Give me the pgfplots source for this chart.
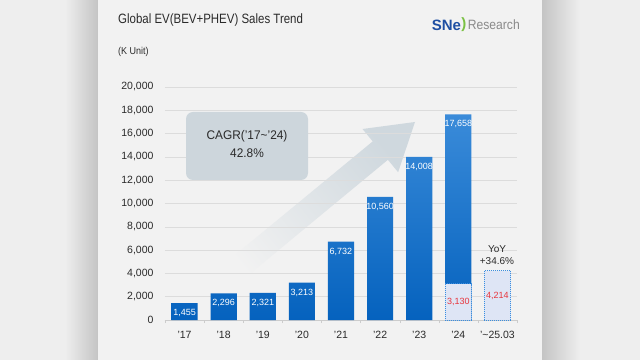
\documentclass[border=0pt]{standalone}
\usepackage{pgfplots}
\pgfplotsset{compat=1.18}
\usepackage{fontspec}
\setmainfont{Liberation Sans}
\definecolor{outerbg}{HTML}{EEEEEE}
\definecolor{panelbg}{HTML}{F2F2F2}
\definecolor{shadow}{HTML}{C4C4C4}
\definecolor{gridc}{HTML}{DCDCDC}
\definecolor{axisc}{HTML}{CCCCCC}
\definecolor{bartop}{HTML}{3A8BD9}
\definecolor{barbot}{HTML}{0562BE}
\definecolor{boxfill}{HTML}{DEE5F5}
\definecolor{boxdraw}{HTML}{3A8EE0}
\definecolor{redlab}{HTML}{E8343C}
\definecolor{txt}{HTML}{2A2A2A}
\definecolor{cagrbox}{HTML}{CDD6DC}
\definecolor{arrowc}{HTML}{CFD8DE}
\definecolor{sneblue}{HTML}{1E4FA3}
\definecolor{snegreen}{HTML}{7AC143}
\definecolor{snegray}{HTML}{8A8A8A}
\newcommand{\fs}[1]{\fontsize{#1bp}{#1bp}\selectfont}
\begin{document}
\begin{tikzpicture}
% background
\fill[outerbg] (-165bp,-40bp) rectangle (475bp,320bp);
\shade[left color=outerbg, right color=shadow] (-100bp,-40bp) rectangle (-67bp,320bp);
\shade[left color=shadow, right color=outerbg] (377bp,-40bp) rectangle (415bp,320bp);
\fill[panelbg] (-67bp,-40bp) rectangle (377bp,320bp);
% arrow
\shade[top color=arrowc, bottom color=panelbg, shading angle=-51]
  (47.4bp,46.3bp) -- (207.7bp,178.6bp) -- (197.5bp,191.0bp) -- (250bp,198bp)
  -- (233.1bp,147.8bp) -- (222.9bp,160.2bp) -- (62.6bp,27.7bp) -- cycle;
\begin{axis}[
  at={(0,0)}, anchor=south west,
  scale only axis, width=352bp, height=233bp,
  xmin=-0.5, xmax=8.5, ymin=0, ymax=20000,
  axis lines*=left,
  x axis line style={draw=axisc, line width=0.8pt},
  y axis line style={draw=none},
  ytick={0,2000,...,20000},
  scaled y ticks=false,
  yticklabel style={/pgf/number format/fixed, /pgf/number format/1000 sep={,}, font=\fs{10.5}, text=txt, xshift=-8bp},
  /pgf/number format/assume math mode=true,
  ymajorgrids, grid style={draw=gridc, line width=0.6pt},
  xtick={0,1,...,8},
  xticklabels={’17,’18,’19,’20,’21,’22,’23,’24,’\textasciitilde 25.03},
  xticklabel style={font=\fs{10.5}, text=txt, yshift=-8bp},
  minor xtick={-0.5,0.5,...,8.5},
  major tick length=0pt, minor tick length=3bp,
  tick align=outside,
  minor tick style={draw=axisc},
  clip=false,
]
\addplot[ybar, bar width=0.67, bar shift=0pt, draw=none, top color=bartop, bottom color=barbot,
  nodes near coords, nodes near coords style={anchor=center, yshift=-10bp, text=white, font=\fs{9}, /pgf/number format/1000 sep={,}}]
  coordinates {(0,1455) (1,2296) (2,2321) (3,3213) (4,6732) (5,10560) (6,14008) (7,17658)};
\addplot[ybar, bar width=0.67, bar shift=0pt, draw=boxdraw, densely dotted, line width=1pt, fill=boxfill,
  nodes near coords, nodes near coords style={anchor=center, yshift=-18bp, text=redlab, font=\fs{9}, /pgf/number format/1000 sep={,}}]
  coordinates {(7,3130)};
\addplot[ybar, bar width=0.67, bar shift=0pt, draw=boxdraw, densely dotted, line width=1pt, fill=boxfill,
  nodes near coords, nodes near coords style={anchor=center, yshift=-25bp, text=redlab, font=\fs{9}, /pgf/number format/1000 sep={,}}]
  coordinates {(8,4214)};
\end{axis}
% CAGR box
\fill[cagrbox, rounded corners=7bp] (21bp,140bp) rectangle (143bp,208bp);
\node[text=txt, font=\fs{12.5}, xscale=0.95] at (82bp,184bp) {CAGR(’17\textasciitilde’24)};
\node[text=txt, font=\fs{12.5}, xscale=0.95] at (82bp,167bp) {42.8\%};
% YoY
\node[text=txt, font=\fs{10}] at (332bp,71bp) {YoY};
\node[text=txt, font=\fs{10}] at (332bp,59bp) {+34.6\%};
% titles
\node[anchor=west, text=txt, font=\fs{13.5}, inner sep=0pt, xscale=0.85] at (-47bp,300bp) {Global EV(BEV+PHEV) Sales Trend};
\node[anchor=west, text=txt, font=\fs{10}, inner sep=0pt, xscale=0.9] at (-47bp,268bp) {(K Unit)};
% logo
\node[anchor=east, text=snegray, font=\fs{13.5}, inner sep=0pt, xscale=0.9] (res) at (355bp,295bp) {Research};
\node[anchor=east, text=snegreen, font=\bfseries\fs{15}, inner sep=0pt] (br) at ([xshift=-1bp]res.west) {)};
\node[anchor=east, text=sneblue, font=\bfseries\fs{15}, inner sep=0pt] at ([xshift=0bp]br.west) {SNe};
\end{tikzpicture}
\end{document}
